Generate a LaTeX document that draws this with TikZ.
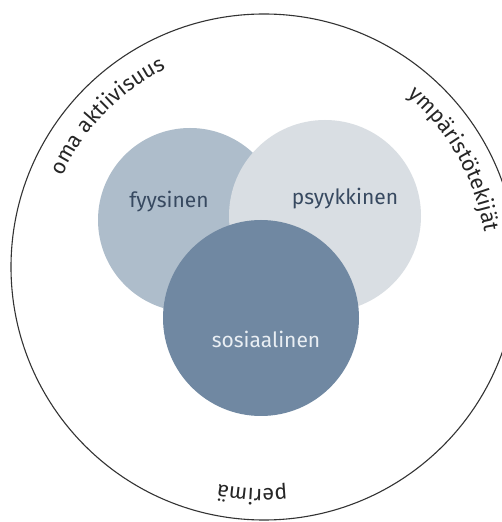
\documentclass[tikz,border=0pt]{standalone}
\usepackage{fontspec}
\setsansfont{Fira Sans}
\usetikzlibrary{decorations.text}

\definecolor{fyysfill}{HTML}{AEBDCB}
\definecolor{psykfill}{HTML}{D9DEE3}
\definecolor{sosfill}{HTML}{7088A2}
\definecolor{labeldark}{HTML}{374960}
\definecolor{labellight}{HTML}{E9EEF3}

\begin{document}
\begin{tikzpicture}[x=1pt, y=1pt,
  bubble/.style={shape=circle, inner sep=0pt},
  word/.style={font=\sffamily\fontsize{21}{25}\selectfont, anchor=base, inner sep=0pt},
  ringtext/.style={decorate, decoration={text along path, text align=center,
    text={|\sffamily\fontsize{21.5}{25}\selectfont\color{black!85}|#1}}}]
\useasboundingbox (0,0) rectangle (502,522);
\clip (0,0) rectangle (502,522);
\fill[white] (0,0) rectangle (502,522);

% outer ring
\node (ring) [draw=black!80, line width=1.1pt, bubble, minimum size=506pt] at (264,255) {};

% the three circles, the lower one on top
\node (fyys) [bubble, fill=fyysfill, minimum size=184pt] at (190,302) {};
\node (psyk) [bubble, fill=psykfill, minimum size=192pt] at (325,306) {};
\node (sos) [bubble, fill=sosfill, minimum size=196pt] at (261,204) {};

\node (fyyslabel) [word, text=labeldark] at (169,314) {fyysinen};
\node (psyklabel) [word, text=labeldark] at (345,317) {psyykkinen};
\node (soslabel) [word, text=labellight] at (266,174) {sosiaalinen};

% words written round the ring, clockwise
\path[ringtext={oma aktiivisuus}] (ring.center) ++(178:221) arc[start angle=178, end angle=94, radius=221];
\path[ringtext={ympäristötekijät}] (ring.center) ++(72:223) arc[start angle=72, end angle=-13, radius=223];
\path[ringtext={perimä}] (ring.center) ++(-50:222) arc[start angle=-50, end angle=-136, radius=222];
\end{tikzpicture}
\end{document}
